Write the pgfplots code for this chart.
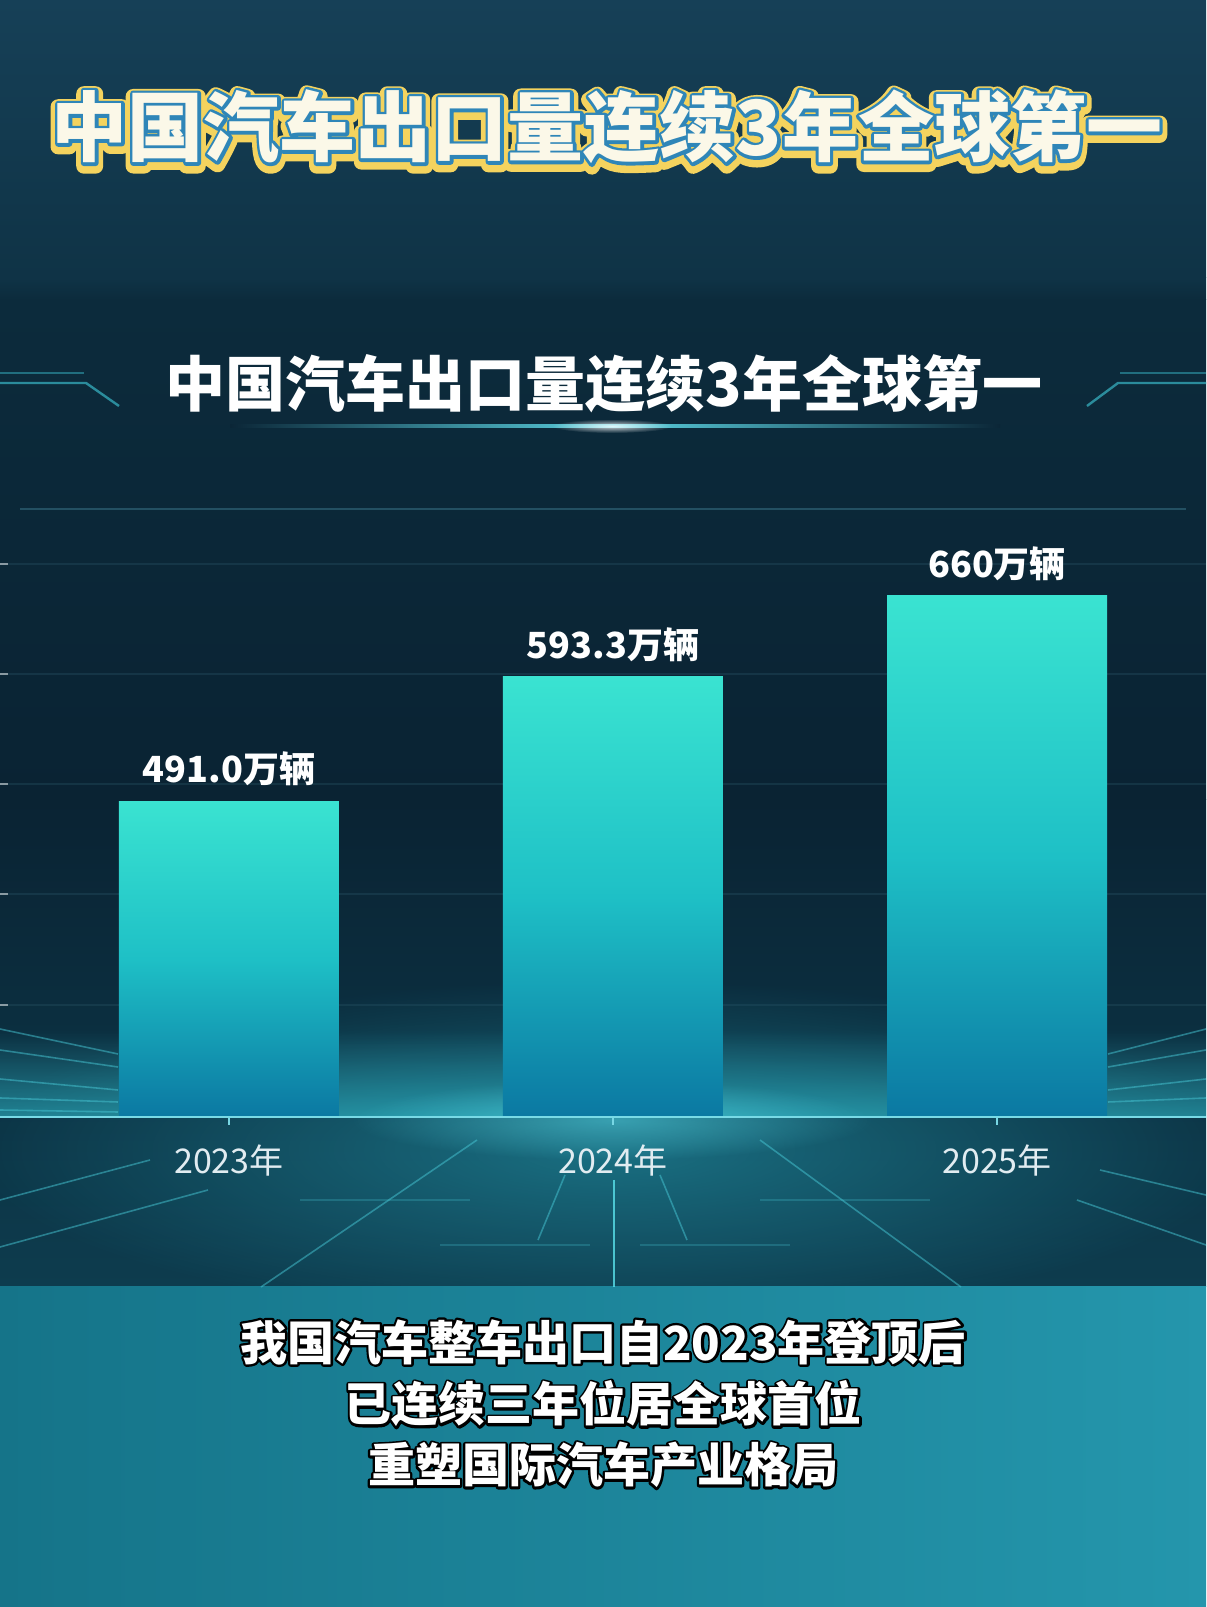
\documentclass[border=0pt]{standalone}
\usepackage{fontspec}
\setmainfont{Noto Sans CJK SC}
\usepackage{pgfplots}
\usepackage{pgfplotstable}
\pgfplotsset{compat=1.18}
\usetikzlibrary{fadings}

\tikzfading[name=softglow, inner color=transparent!0, outer color=transparent!100]
\tikzfading[name=fadeup, top color=transparent!100, bottom color=transparent!0]

\definecolor{bgpanel}{HTML}{0B2637}
\definecolor{bartop}{HTML}{3AE3D1}
\definecolor{barmid}{HTML}{1EC0C6}
\definecolor{barbot}{HTML}{0B78A2}
\definecolor{gold}{HTML}{F4D35E}
\definecolor{tblue}{HTML}{2F86B8}
\definecolor{cream}{HTML}{FBF8E8}
\definecolor{deco}{HTML}{2B8C9C}
\definecolor{streak}{HTML}{46C6D4}

\pgfplotstableread{
x v lab
0 491.0 491.0万辆
1 593.3 593.3万辆
2 660 660万辆
}\exports

\pgfplotsset{mybar/.style={ybar, bar width=110pt, draw=none, top color=bartop, bottom color=barbot, middle color=barmid}}

\begin{document}
\begin{tikzpicture}
\useasboundingbox (0,0) rectangle (603pt,803.5pt);
\begin{scope}[x=0.5pt,y=-0.5pt,yshift=803.5pt]
  % backgrounds
  \fill[bgpanel] (0,0) rectangle (1206,1607);
  \shade[top color={rgb,255:red,22;green,64;blue,87}, bottom color={rgb,255:red,15;green,51;blue,70}] (0,0) rectangle (1206,278);
  \shade[top color={rgb,255:red,15;green,51;blue,70}, bottom color={rgb,255:red,12;green,43;blue,60}] (0,278) rectangle (1206,300);
  \shade[top color={rgb,255:red,12;green,43;blue,60}, bottom color={rgb,255:red,10;green,35;blue,51}] (0,300) rectangle (1206,800);
  \shade[top color={rgb,255:red,10;green,35;blue,51}, bottom color={rgb,255:red,13;green,60;blue,78}] (0,800) rectangle (1206,1287);
  % glow around the baseline
  \fill[color={rgb,255:red,40;green,170;blue,190}, opacity=0.5, path fading=softglow] (612,1150) ellipse [x radius=640, y radius=170];
  \fill[color={rgb,255:red,50;green,195;blue,212}, opacity=0.55, path fading=fadeup] (0,1030) rectangle (1206,1117);
  \fill[color={rgb,255:red,90;green,220;blue,235}, opacity=0.5, path fading=softglow] (612,1120) ellipse [x radius=260, y radius=40];
  % bottom band
  \shade[left color={rgb,255:red,21;green,116;blue,137}, right color={rgb,255:red,36;green,150;blue,172}] (0,1287) rectangle (1206,1607);
  % top horizontal line of the panel
  \draw[color={rgb,255:red,35;green,80;blue,98}, line width=0.8pt] (20,509) -- (1186,509);
  % decorations beside title 2
  \draw[deco, line width=1.2pt] (0,383) -- (86,383) -- (119,406);
  \draw[deco, line width=0.8pt, opacity=0.7] (0,373) -- (84,373);
  \draw[deco, line width=1.2pt] (1206,383) -- (1118,383) -- (1087,406);
  \draw[deco, line width=0.8pt, opacity=0.7] (1206,373) -- (1120,373);
  % glow line under title 2
  \shade[left color=bgpanel, right color=bgpanel, middle color={rgb,255:red,90;green,210;blue,225}] (230,424.5) rectangle (1000,427.5);
  \fill[white, opacity=0.8, path fading=softglow] (612,426) ellipse [x radius=60, y radius=7];
  % streaks, left of bar 1 and right of bar 3
  \begin{scope}[streak, line width=0.8pt, opacity=0.5]
    \draw (0,1029) -- (118,1054);
    \draw (0,1050) -- (118,1067);
    \draw (0,1079) -- (118,1090);
    \draw (0,1098) -- (118,1102);
    \draw (0,1110) -- (118,1112);
    \draw (1206,1029) -- (1108,1054);
    \draw (1206,1050) -- (1108,1067);
    \draw (1206,1079) -- (1108,1090);
    \draw (1206,1098) -- (1108,1102);
    % perspective lines below the axis
    \draw (477,1140) -- (261,1287);
    \draw (760,1140) -- (961,1287);
    \draw (565,1175) -- (538,1240);
    \draw (660,1175) -- (687,1240);
    \draw (208,1190) -- (0,1247);
    \draw (150,1160) -- (0,1200);
    \draw (1077,1200) -- (1206,1245);
    \draw (1100,1170) -- (1206,1195);
  \end{scope}
  \begin{scope}[streak, line width=0.6pt, opacity=0.25]
    \draw (440,1245) -- (590,1245);
    \draw (640,1245) -- (790,1245);
    \draw (300,1200) -- (470,1200);
    \draw (760,1200) -- (930,1200);
  \end{scope}
  \draw[color={rgb,255:red,90;green,225;blue,235}, line width=1.2pt, opacity=0.8] (614,1180) -- (614,1287);
\end{scope}

\begin{axis}[
  at={(0pt,245pt)}, anchor=south west,
  scale only axis, width=603pt, height=304pt,
  xmin=-0.596, xmax=2.544, ymin=0, ymax=500.5,
  axis line style={draw=none},
  xtick={0,1,2},
  xticklabels={2023年,2024年,2025年},
  xtick pos=bottom, xtick align=outside,
  x tick style={draw={rgb,255:red,120;green,215;blue,228}, line width=0.8pt},
  xticklabel style={font=\fontsize{17pt}{17pt}\selectfont, text={rgb,255:red,225;green,236;blue,241}, anchor=center, yshift=-18pt},
  ytick={0,92.2,183.6,274.1,364.7,455.2},
  yticklabels={},
  ytick pos=left, ytick align=inside,
  y tick style={draw=white, opacity=0.5, line width=0.8pt},
  major tick length=4pt,
  ymajorgrids,
  grid style={draw={rgb,255:red,40;green,84;blue,102}, opacity=0.35, line width=0.6pt},
]
\addplot[mybar, x filter/.expression={x==0 ? x : nan}] table[x=x, y expr=\thisrow{v}-231] {\exports};
\addplot[mybar, x filter/.expression={x==1 ? x : nan}] table[x=x, y expr=\thisrow{v}-231] {\exports};
\addplot[mybar, x filter/.expression={x==2 ? x : nan}] table[x=x, y expr=\thisrow{v}-231] {\exports};
\addplot[only marks, mark=none, nodes near coords, point meta=explicit symbolic,
  every node near coord/.append style={font=\fontsize{18pt}{18pt}\selectfont\bfseries, text=white, anchor=center, yshift=16pt}]
  table[x=x, y expr=\thisrow{v}-231, meta=lab] {\exports};
\end{axis}

\begin{scope}[x=0.5pt,y=-0.5pt,yshift=803.5pt, line join=round]
  % baseline
  \draw[color={rgb,255:red,120;green,218;blue,230}, line width=1pt] (0,1117) -- (1206,1117);
  % title 1
  \def\tA{中国汽车出口量连续3年全球第一}
  \def\fA{\fontsize{38pt}{40pt}\selectfont\bfseries}
  \node[inner sep=0pt, text=gold, font=\fA\addfontfeature{FakeBold=20}] at ([yshift=-1.5pt]607,127) {\tA};
  \node[inner sep=0pt, text=tblue, font=\fA\addfontfeature{FakeBold=8}] at (607,127) {\tA};
  \node[inner sep=0pt, text=cream, font=\fA] at (607,127) {\tA};
  % title 2
  \node[inner sep=0pt, text=white, font=\fontsize{30pt}{32pt}\selectfont\bfseries] at (604,384) {中国汽车出口量连续3年全球第一};
  % bottom text
  \def\fB{\fontsize{23.5pt}{25pt}\selectfont\bfseries}
  \node[inner sep=0pt, text=black, font=\fB\addfontfeature{FakeBold=10}] at (603,1342) {我国汽车整车出口自2023年登顶后};
  \node[inner sep=0pt, text=white, font=\fB] at (603,1342) {我国汽车整车出口自2023年登顶后};
  \node[inner sep=0pt, text=black, font=\fB\addfontfeature{FakeBold=10}] at (603,1404) {已连续三年位居全球首位};
  \node[inner sep=0pt, text=white, font=\fB] at (603,1404) {已连续三年位居全球首位};
  \node[inner sep=0pt, text=black, font=\fB\addfontfeature{FakeBold=10}] at (603,1465) {重塑国际汽车产业格局};
  \node[inner sep=0pt, text=white, font=\fB] at (603,1465) {重塑国际汽车产业格局};
\end{scope}
\end{tikzpicture}
\end{document}
